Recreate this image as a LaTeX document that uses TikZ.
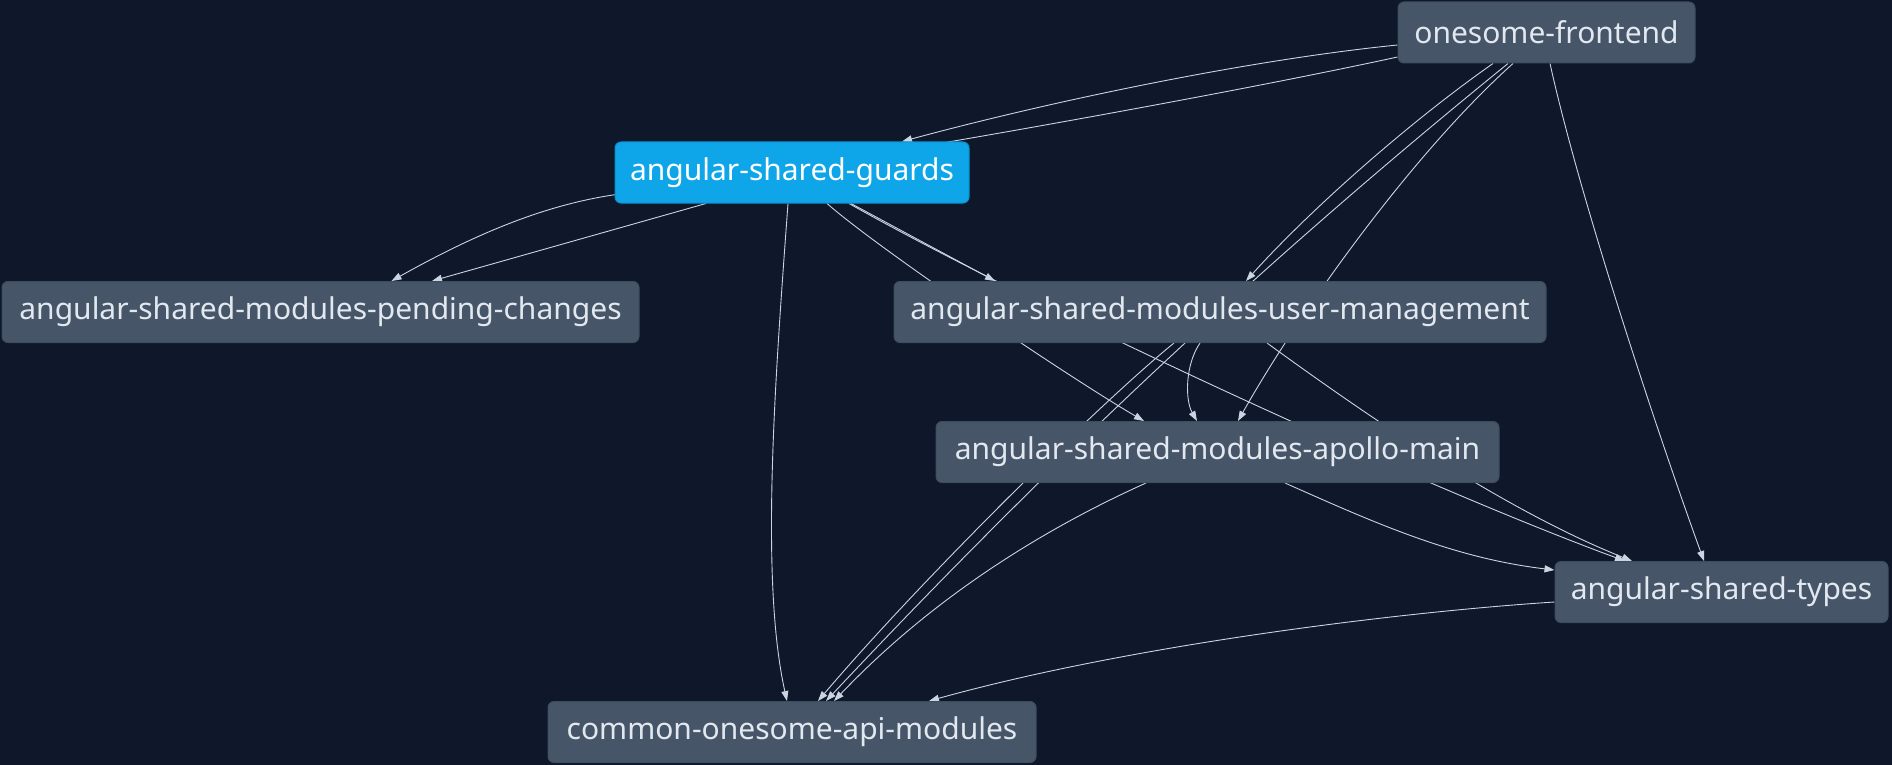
\documentclass[tikz,border=0pt]{standalone}
\usepackage{fontspec}
\setmainfont{Noto Sans}
\usetikzlibrary{arrows.meta,calc}
\definecolor{bgc}{HTML}{0F172A}
\definecolor{nodefill}{HTML}{475569}
\definecolor{nodeline}{HTML}{3E4C60}
\definecolor{hifill}{HTML}{0EA5E9}
\definecolor{hiline}{HTML}{0B8FCB}
\definecolor{txt}{HTML}{E2E8F0}
\definecolor{edgec}{HTML}{CBD5E1}
\pgfdeclarelayer{bglayer}
\pgfdeclarelayer{edgelayer}
\pgfsetlayers{bglayer,edgelayer,main}
\begin{document}
\begin{tikzpicture}[x=1pt,y=-1pt,
  box/.style={rectangle, rounded corners=6pt, fill=nodefill, draw=nodeline, line width=1pt, text=txt, minimum height=61pt, inner sep=0pt, font=\fontsize{30}{36}\selectfont},
  hibox/.style={box, fill=hifill, draw=hiline, text=white},
  dep/.style={draw=edgec, line width=0.9pt, -{Triangle[length=10pt,width=7pt]}}]
\begin{pgfonlayer}{bglayer}
\fill[bgc] (0,0) rectangle (1892,765);
\end{pgfonlayer}
\useasboundingbox (0,0) rectangle (1892,765);

\node[box, minimum width=297pt] (fe) at (1546.5,32.5) {onesome-frontend};
\node[hibox, minimum width=354pt] (guards) at (792,172.5) {angular-shared-guards};
\node[box, minimum width=637pt] (pending) at (320.5,312) {angular-shared-modules-pending-changes};
\node[box, minimum width=652pt] (um) at (1220,312) {angular-shared-modules-user-management};
\node[box, minimum width=563pt] (apollo) at (1217.5,452) {angular-shared-modules-apollo-main};
\node[box, minimum width=333pt] (types) at (1721.5,592) {angular-shared-types};
\node[box, minimum width=488pt] (common) at (792,732) {common-onesome-api-modules};

\begin{pgfonlayer}{edgelayer}
% from onesome-frontend
\draw[dep] ($(fe.west)+(0,12.5)$) .. controls (1248,60) and (1052,101) .. ($(guards.north)+(110,0)$);
\draw[dep] ($(fe.west)+(0,24.5)$) .. controls (1200,100) and (800,170) .. (613,195)
  .. controls (540,206) and (470,237) .. ($(pending.north)+(71,0)$);
\draw[dep] ($(fe.south)+(-53.5,0)$) .. controls (1408,123) and (1309,211) .. ($(um.north)+(26,0)$);
\draw[dep] ($(fe.south)+(-38.5,0)$) .. controls (1225,293) and (1014,501) .. ($(common.north)+(34,0)$);
\draw[dep] ($(fe.south)+(-33.5,0)$) .. controls (1413,153) and (1300,311) .. ($(apollo.north)+(20.5,0)$);
\draw[dep] ($(fe.south)+(3.5,0)$) .. controls (1580,200) and (1660,440) .. ($(types.north)+(-17.5,0)$);
% from angular-shared-guards
\draw[dep] ($(guards.south)+(-86,0)$) -- ($(pending.north)+(111.5,0)$);
\draw[dep] ($(guards.south)+(-4,0)$) .. controls (775,380) and (760,580) .. ($(common.north)+(-5,0)$);
\draw[dep] ($(guards.south)+(59,0)$) -- ($(um.north)+(-225,0)$);
\draw[dep] ($(guards.south)+(35,0)$) .. controls (880,250) and (1070,378) .. ($(apollo.north)+(-73.5,0)$);
\draw[dep] ($(guards.south)+(57,0)$) .. controls (1020,300) and (1410,482) .. ($(types.north)+(-96.5,0)$);
% from user-management
\draw[dep] ($(um.south)+(-20,0)$) .. controls (1185,365) and (1185,400) .. ($(apollo.north)+(-20.5,0)$);
\draw[dep] ($(um.south)+(-46,0)$) .. controls (1100,403) and (920,581) .. ($(common.north)+(26,0)$);
\draw[dep] ($(um.south)+(47,0)$) .. controls (1377,423) and (1507,511) .. ($(types.north)+(-89.5,0)$);
% from apollo-main
\draw[dep] ($(apollo.south)+(-71.5,0)$) .. controls (1046,528) and (934,596) .. ($(common.north)+(42,0)$);
\draw[dep] ($(apollo.south)+(67.5,0)$) .. controls (1375,523) and (1453,558) .. ($(types.west)+(0,-22)$);
% from types
\draw[dep] ($(types.west)+(0,10)$) .. controls (1400,612) and (1130,645) .. ($(common.north)+(137,0)$);
\end{pgfonlayer}
\end{tikzpicture}
\end{document}
